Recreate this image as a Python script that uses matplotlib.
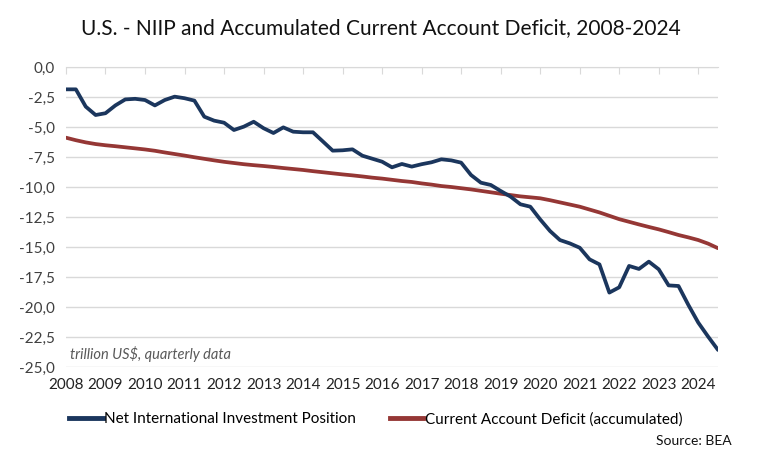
import numpy as np
import matplotlib.pyplot as plt
from matplotlib.lines import Line2D

plt.rcParams['font.family'] = ['Lato', 'DejaVu Sans']

# quarterly data 2008Q1 - 2024Q3, trillion US$
niip = [-1.86, -1.86, -3.3, -4.0, -3.85, -3.2, -2.7, -2.65, -2.75, -3.2,
        -2.75, -2.47, -2.6, -2.8, -4.14, -4.47, -4.64, -5.25, -4.97, -4.56,
        -5.1, -5.5, -5.03, -5.39, -5.44, -5.44, -6.2, -6.97, -6.94, -6.86,
        -7.39, -7.64, -7.89, -8.36, -8.08, -8.3, -8.1, -7.94, -7.69, -7.78,
        -7.97, -9.0, -9.64, -9.83, -10.33, -10.8, -11.44, -11.64, -12.7, -13.67,
        -14.42, -14.7, -15.06, -16.03, -16.45, -18.8, -18.36, -16.58, -16.83, -16.22,
        -16.86, -18.2, -18.25, -19.83, -21.3, -22.47, -23.58]
cad = [-5.89, -6.1, -6.28, -6.42, -6.52, -6.6, -6.69, -6.78, -6.87, -6.98,
       -7.12, -7.25, -7.38, -7.52, -7.65, -7.78, -7.9, -8.0, -8.1, -8.18,
       -8.25, -8.33, -8.42, -8.5, -8.58, -8.68, -8.77, -8.86, -8.95, -9.03,
       -9.12, -9.22, -9.3, -9.4, -9.5, -9.58, -9.7, -9.8, -9.92, -10.0,
       -10.1, -10.2, -10.32, -10.44, -10.56, -10.67, -10.78, -10.86, -10.94, -11.1,
       -11.28, -11.46, -11.64, -11.88, -12.12, -12.4, -12.68, -12.9, -13.12, -13.33,
       -13.53, -13.76, -14.0, -14.2, -14.42, -14.72, -15.1]
years = list(range(2008, 2025))
yticks = [0, -2.5, -5, -7.5, -10, -12.5, -15, -17.5, -20, -22.5, -25]

t = 2008 + np.arange(len(niip)) * 0.25

blue = '#1b365d'
red = '#953735'

fig = plt.figure(figsize=(7.61, 4.72), dpi=100)
ax = fig.add_axes([0.0867, 0.2225, 0.8568, 0.6355])

ax.plot(t, cad, color=red, lw=2.7, solid_capstyle='round', zorder=3)
ax.plot(t, niip, color=blue, lw=2.7, solid_capstyle='round', zorder=4)

ax.set_xlim(2008, 2024.5)
ax.set_ylim(-25, 0)
ax.set_yticks(yticks)
ax.set_yticklabels([('%.1f' % v).replace('.', ',') for v in yticks])
ax.set_xticks(years)
ax.set_xticklabels([str(y) for y in years])
ax.yaxis.grid(True, color='#d9d9d9', lw=1)
ax.set_axisbelow(True)
for s in ['left', 'right', 'bottom']:
    ax.spines[s].set_visible(False)
ax.spines['top'].set_color('#d9d9d9')
ax.tick_params(axis='y', length=0, labelsize=11, colors='#404040', pad=8)
ax.tick_params(axis='x', top=True, bottom=False, labeltop=False, labelbottom=True,
               direction='in', length=5, color='#d9d9d9', labelsize=11,
               labelcolor='#222222', pad=8)

ax.text(2008.1, -23.9, 'trillion US$, quarterly data', style='italic',
        color='#595959', fontsize=10.5, va='center')

fig.text(0.5, 0.94, 'U.S. - NIIP and Accumulated Current Account Deficit, 2008-2024',
         ha='center', va='center', fontsize=15, color='#111111')

handles = [Line2D([], [], color=blue, lw=3.5), Line2D([], [], color=red, lw=3.5)]
fig.legend(handles, ['Net International Investment Position',
                     'Current Account Deficit (accumulated)'],
           loc='center', bbox_to_anchor=(0.494, 0.112), ncol=2, frameon=False,
           fontsize=11, handlelength=2.2, handletextpad=0.1, columnspacing=2.2)

fig.text(0.962, 0.066, 'Source: BEA', ha='right', va='center', fontsize=10,
         color='#111111')

fig.savefig('out.png', dpi=100)
